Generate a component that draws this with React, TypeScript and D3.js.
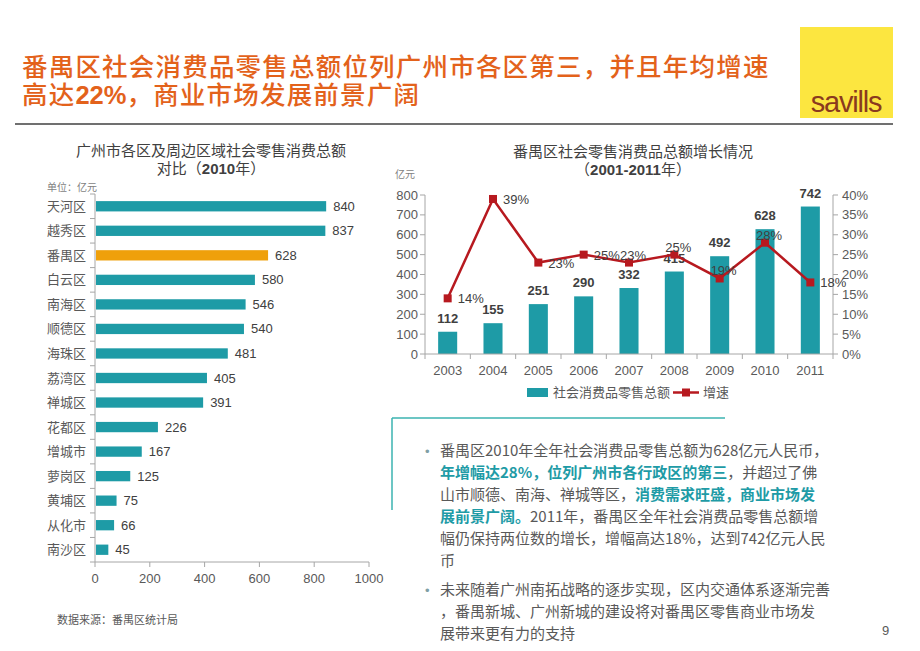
import React from 'react';
import * as d3 from 'd3';

// ---------- data ----------
const districts = ['天河区', '越秀区', '番禺区', '白云区', '南海区', '顺德区', '海珠区', '荔湾区', '禅城区', '花都区', '增城市', '萝岗区', '黄埔区', '从化市', '南沙区'];
const districtSales = [840, 837, 628, 580, 546, 540, 481, 405, 391, 226, 167, 125, 75, 66, 45];
const highlightDistrict = '番禺区';
const districtTicks = [0, 200, 400, 600, 800, 1000];

const years = ['2003', '2004', '2005', '2006', '2007', '2008', '2009', '2010', '2011'];
const yearSales = [112, 155, 251, 290, 332, 415, 492, 628, 742];
const yearGrowth = [14, 39, 23, 25, 23, 25, 19, 28, 18];
const growthLabelSide = ['right', 'right', 'right', 'right', 'above', 'above', 'above', 'above', 'right'];
const salesTicks = [0, 100, 200, 300, 400, 500, 600, 700, 800];
const growthTicks = [0, 5, 10, 15, 20, 25, 30, 35, 40];

type Seg = { t: string; hl?: boolean };
const bullet1: Seg[][] = [
  [{ t: '番禺区2010年全年社会消费品零售总额为628亿元人民币，' }],
  [{ t: '年增幅达28%，位列广州市各行政区的第三', hl: true }, { t: '，并超过了佛' }],
  [{ t: '山市顺德、南海、禅城等区，' }, { t: '消费需求旺盛，商业市场发', hl: true }],
  [{ t: '展前景广阔。', hl: true }, { t: '2011年，番禺区全年社会消费品零售总额增' }],
  [{ t: '幅仍保持两位数的增长，增幅高达18%，达到742亿元人民' }],
  [{ t: '币' }],
];
const bullet2: Seg[][] = [
  [{ t: '未来随着广州南拓战略的逐步实现，区内交通体系逐渐完善' }],
  [{ t: '，番禺新城、广州新城的建设将对番禺区零售商业市场发' }],
  [{ t: '展带来更有力的支持' }],
];

// ---------- styles ----------
const CJK = '"Noto Sans CJK SC", "Liberation Sans", Arial, sans-serif';
const NUM = '"Liberation Sans", Arial, sans-serif';
const TEAL = '#1E9BA6';
const ORANGE = '#EFA00B';
const RED = '#B7191F';
const AXIS = '#A6A6A6';
const TXT = '#595959';
const DARK = '#404040';

function LeftChart() {
  const x = d3.scaleLinear().domain([0, 1000]).range([95, 369]);
  const y = d3.scaleBand<string>().domain(districts).range([194, 562]).paddingInner(0.58).paddingOuter(0.29);
  const step = y.step();
  const y0 = 194;
  return (
    <g>
      <text x={211} y={156} textAnchor="middle" fontFamily={CJK} fontSize={15} fill={DARK}>广州市各区及周边区域社会零售消费总额</text>
      <text x={211} y={174} textAnchor="middle" fontFamily={CJK} fontSize={15} fill={DARK}>
        对比（<tspan fontFamily={NUM} fontWeight="bold">2010</tspan>年）
      </text>
      <text x={47} y={191} fontFamily={CJK} fontSize={10} fill="#7F7F7F">单位：亿元</text>
      {districts.map((d, i) => (
        <g key={d}>
          <rect x={x(0) + 1} y={y(d)!} width={x(districtSales[i]) - x(0)} height={y.bandwidth()} fill={d === highlightDistrict ? ORANGE : TEAL} />
          <text x={86} y={y(d)! + y.bandwidth() / 2 + 4.5} textAnchor="end" fontFamily={CJK} fontSize={13} fill={TXT}>{d}</text>
          <text x={x(districtSales[i]) + 8} y={y(d)! + y.bandwidth() / 2 + 4.5} fontFamily={NUM} fontSize={13} fill={DARK}>{districtSales[i]}</text>
        </g>
      ))}
      {d3.range(districts.length + 1).map((i) => (
        <line key={'yt' + i} x1={90} x2={95} y1={y0 + i * step} y2={y0 + i * step} stroke={AXIS} />
      ))}
      <line x1={95} x2={95} y1={y0} y2={562} stroke={AXIS} />
      <line x1={95} x2={369} y1={562} y2={562} stroke={AXIS} />
      {districtTicks.map((t) => (
        <g key={'xt' + t}>
          <line x1={x(t)} x2={x(t)} y1={562} y2={567} stroke={AXIS} />
          <text x={x(t)} y={583} textAnchor="middle" fontFamily={NUM} fontSize={13} fill={TXT}>{t}</text>
        </g>
      ))}
      <text x={57} y={624} fontFamily={CJK} fontSize={11} fill={TXT}>数据来源：番禺区统计局</text>
    </g>
  );
}

function RightChart() {
  const x = d3.scaleBand<string>().domain(years).range([425, 833]).paddingInner(0.58).paddingOuter(0.29);
  const yL = d3.scaleLinear().domain([0, 800]).range([354, 195]);
  const yR = d3.scaleLinear().domain([0, 40]).range([354, 195]);
  const cx = (yr: string) => x(yr)! + x.bandwidth() / 2;
  const line = d3.line<number>().x((_, i) => cx(years[i])).y((v) => yR(v));
  const step = x.step();
  return (
    <g>
      <text x={633} y={157} textAnchor="middle" fontFamily={CJK} fontSize={15} fill={DARK}>番禺区社会零售消费品总额增长情况</text>
      <text x={633} y={175} textAnchor="middle" fontFamily={CJK} fontSize={15} fill={DARK}>
        （<tspan fontFamily={NUM} fontWeight="bold">2001-2011</tspan>年）
      </text>
      <text x={395} y={178} fontFamily={CJK} fontSize={10} fill="#7F7F7F">亿元</text>
      {years.map((yr, i) => (
        <g key={yr}>
          <rect x={x(yr)!} y={yL(yearSales[i])} width={x.bandwidth()} height={yL(0) - yL(yearSales[i])} fill={TEAL} />
          <text x={cx(yr)} y={yL(yearSales[i]) - 9} textAnchor="middle" fontFamily={NUM} fontWeight="bold" fontSize={13} fill={DARK}>{yearSales[i]}</text>
          <text x={cx(yr)} y={375} textAnchor="middle" fontFamily={NUM} fontSize={13} fill={TXT}>{yr}</text>
        </g>
      ))}
      {/* axes */}
      <line x1={425} x2={425} y1={195} y2={354} stroke={AXIS} />
      {salesTicks.map((t) => (
        <g key={'l' + t}>
          <line x1={420} x2={425} y1={yL(t)} y2={yL(t)} stroke={AXIS} />
          <text x={418} y={yL(t) + 4.5} textAnchor="end" fontFamily={NUM} fontSize={13} fill={TXT}>{t}</text>
        </g>
      ))}
      <line x1={833} x2={833} y1={195} y2={354} stroke={AXIS} />
      {growthTicks.map((t) => (
        <g key={'r' + t}>
          <line x1={833} x2={838} y1={yR(t)} y2={yR(t)} stroke={AXIS} />
          <text x={842} y={yR(t) + 4.5} fontFamily={NUM} fontSize={13} fill={TXT}>{t}%</text>
        </g>
      ))}
      <line x1={425} x2={833} y1={354} y2={354} stroke={AXIS} />
      {d3.range(years.length + 1).map((i) => (
        <line key={'xt' + i} x1={425 + i * step} x2={425 + i * step} y1={354} y2={359} stroke={AXIS} />
      ))}
      {/* growth line */}
      <path d={line(yearGrowth)!} fill="none" stroke={RED} strokeWidth={2.5} />
      {yearGrowth.map((g, i) => {
        const px = cx(years[i]);
        const py = yR(g);
        const right = growthLabelSide[i] === 'right';
        return (
          <g key={'g' + i}>
            <rect x={px - 4} y={py - 4} width={8} height={8} fill={RED} />
            <text x={right ? px + 10 : px + 4} y={right ? py + 5 : py - 3} textAnchor={right ? 'start' : 'middle'} fontFamily={NUM} fontSize={13} fill={DARK}>{g}%</text>
          </g>
        );
      })}
      {/* legend */}
      <rect x={527} y={388} width={21} height={9} fill={TEAL} />
      <text x={553} y={397} fontFamily={CJK} fontSize={13} fill={TXT}>社会消费品零售总额</text>
      <line x1={673} x2={699} y1={392.5} y2={392.5} stroke={RED} strokeWidth={2.5} />
      <rect x={682} y={388.5} width={8} height={8} fill={RED} />
      <text x={703} y={397} fontFamily={CJK} fontSize={13} fill={TXT}>增速</text>
    </g>
  );
}

function TextBox() {
  const renderLine = (segs: Seg[], yy: number, k: string) => (
    <text key={k} x={440} y={yy} fontFamily={CJK} fontSize={15} fill={TXT}>
      {segs.map((s, j) => (
        <tspan key={j} fill={s.hl ? TEAL : TXT} fontWeight={s.hl ? 'bold' : 'normal'}>{s.t}</tspan>
      ))}
    </text>
  );
  return (
    <g>
      <line x1={392} x2={725} y1={418} y2={418} stroke="#3BB3B0" strokeWidth={1.5} />
      <line x1={392} x2={392} y1={418} y2={510} stroke="#3BB3B0" strokeWidth={1.5} />
      <text x={425} y={456} fontFamily={NUM} fontSize={13} fill="#7F9FA6">•</text>
      {bullet1.map((l, i) => renderLine(l, 456 + i * 22, 'a' + i))}
      <text x={425} y={595} fontFamily={NUM} fontSize={13} fill="#7F9FA6">•</text>
      {bullet2.map((l, i) => renderLine(l, 595 + i * 22, 'b' + i))}
      <text x={882} y={635} fontFamily={NUM} fontSize={13} fill={TXT}>9</text>
    </g>
  );
}

export default function App() {
  return (
    <svg width={920} height={651} style={{ position: 'absolute', left: 0, top: 0, background: '#fff' }}>
      <rect x={0} y={0} width={920} height={651} fill="#fff" />
      <text x={22} y={76} fontFamily={CJK} fontSize={25.5} fontWeight={500} fill="#E3621B" letterSpacing={1.2}>番禺区社会消费品零售总额位列广州市各区第三，并且年均增速</text>
      <text x={22} y={104} fontFamily={CJK} fontSize={25.5} fontWeight={500} fill="#E3621B" letterSpacing={1.2}>
        高达<tspan fontFamily={NUM} fontWeight="bold" letterSpacing={0}>22%</tspan>，商业市场发展前景广阔
      </text>
      <rect x={800} y={27} width={93} height={91} fill="#FCE640" />
      <text x={846} y={112} textAnchor="middle" fontFamily={NUM} fontSize={29} fill="#8A3A1E" letterSpacing={-1.2}>savills</text>
      <line x1={15} x2={893} y1={124} y2={124} stroke="#404040" strokeWidth={1.5} />
      <LeftChart />
      <RightChart />
      <TextBox />
    </svg>
  );
}
